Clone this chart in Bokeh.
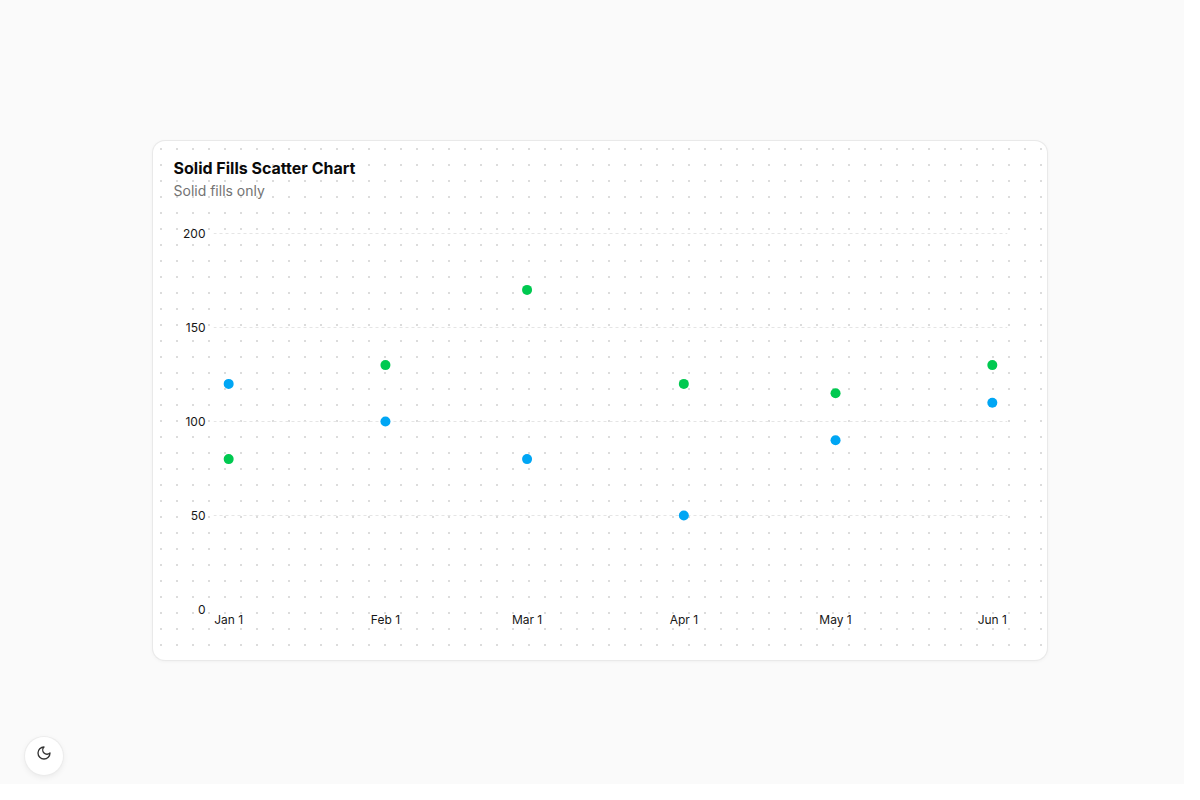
from datetime import datetime, timedelta

from bokeh.embed import file_html
from bokeh.layouts import column
from bokeh.models import (ColumnDataSource, DatetimeTickFormatter, Div,
                          FixedTicker, Range1d, Title)
from bokeh.plotting import figure
from bokeh.resources import INLINE

# data
dates = [datetime(2023, 1, 1), datetime(2023, 2, 1), datetime(2023, 3, 1),
         datetime(2023, 4, 1), datetime(2023, 5, 1), datetime(2023, 6, 1)]
blue_values = [120, 100, 80, 50, 90, 110]
green_values = [80, 130, 170, 120, 115, 130]
y_ticks = [0, 50, 100, 150, 200]

BLUE = "#00a6f4"
GREEN = "#00c950"
FONT = "Inter"


def ms(d):
    return d.timestamp() * 1000


source = ColumnDataSource(dict(x=dates, blue=blue_values, green=green_values))

card_style = {
    "background-color": "#ffffff",
    "background-image": "radial-gradient(circle, #dcdcdc 1px, transparent 1.2px)",
    "background-size": "16px 16px",
    "border-radius": "12px",
    "box-shadow": "0 0 0 1px #e9e9e9, 0 1px 4px rgba(0,0,0,0.06)",
}

p = figure(width=894, height=519, output_backend="svg", toolbar_location=None,
           x_axis_type="datetime", title=None,
           min_border_left=60, min_border_right=40,
           min_border_top=57, min_border_bottom=49,
           margin=(141, 0, 0, 153), styles=card_style)
p.background_fill_color = None
p.border_fill_color = None
p.outline_line_color = None

p.x_range = Range1d(ms(dates[0] - timedelta(days=3)), ms(dates[-1] + timedelta(days=3)))
p.y_range = Range1d(-2 / 1.88, 411 / 1.88)

p.add_layout(Title(text="Solid fills only", text_font=FONT, text_font_size="14px",
                   text_font_style="normal", text_color="#737373",
                   offset=-40, standoff=0), "above")
p.add_layout(Title(text="Solid Fills Scatter Chart", text_font=FONT, text_font_size="16px",
                   text_font_style="bold", text_color="#0a0a0a",
                   offset=-40, standoff=4), "above")

p.scatter("x", "blue", source=source, size=10, fill_color=BLUE, line_color=None)
p.scatter("x", "green", source=source, size=10, fill_color=GREEN, line_color=None)

p.xgrid.grid_line_color = None
p.ygrid.ticker = FixedTicker(ticks=y_ticks[1:])
p.ygrid.grid_line_color = "#e5e5e5"
p.ygrid.grid_line_dash = "3 3"

p.xaxis.ticker = FixedTicker(ticks=[ms(d) for d in dates])
p.xaxis.formatter = DatetimeTickFormatter(months="%b %-d", days="%b %-d")
p.yaxis.ticker = FixedTicker(ticks=y_ticks)

for ax in (p.xaxis, p.yaxis):
    ax.axis_line_color = None
    ax.major_tick_line_color = None
    ax.minor_tick_line_color = None
    ax.major_tick_out = 0
    ax.major_tick_in = 0
    ax.minor_tick_out = 0
    ax.major_label_text_font = FONT
    ax.major_label_text_font_size = "12px"
    ax.major_label_text_color = "#171717"
p.xaxis.major_label_standoff = 0
p.yaxis.major_label_standoff = 8

moon = Div(text='<svg width="16" height="16" viewBox="0 0 24 24" fill="none" stroke="#333" '
                'stroke-width="2" stroke-linecap="round" stroke-linejoin="round">'
                '<path d="M12 3a6 6 0 0 0 9 9 9 9 0 1 1-9-9Z"/></svg>',
           width=38, height=38, margin=(77, 0, 0, 25),
           styles={"background": "#ffffff", "border-radius": "50%",
                   "box-shadow": "0 0 0 1px #ececec, 0 2px 6px rgba(0,0,0,0.08)",
                   "display": "flex", "align-items": "center",
                   "justify-content": "center"})

root = column(p, moon, width=1184, height=784, styles={"background": "#fafafa"})

open("out.html", "w").write(file_html(root, INLINE))
